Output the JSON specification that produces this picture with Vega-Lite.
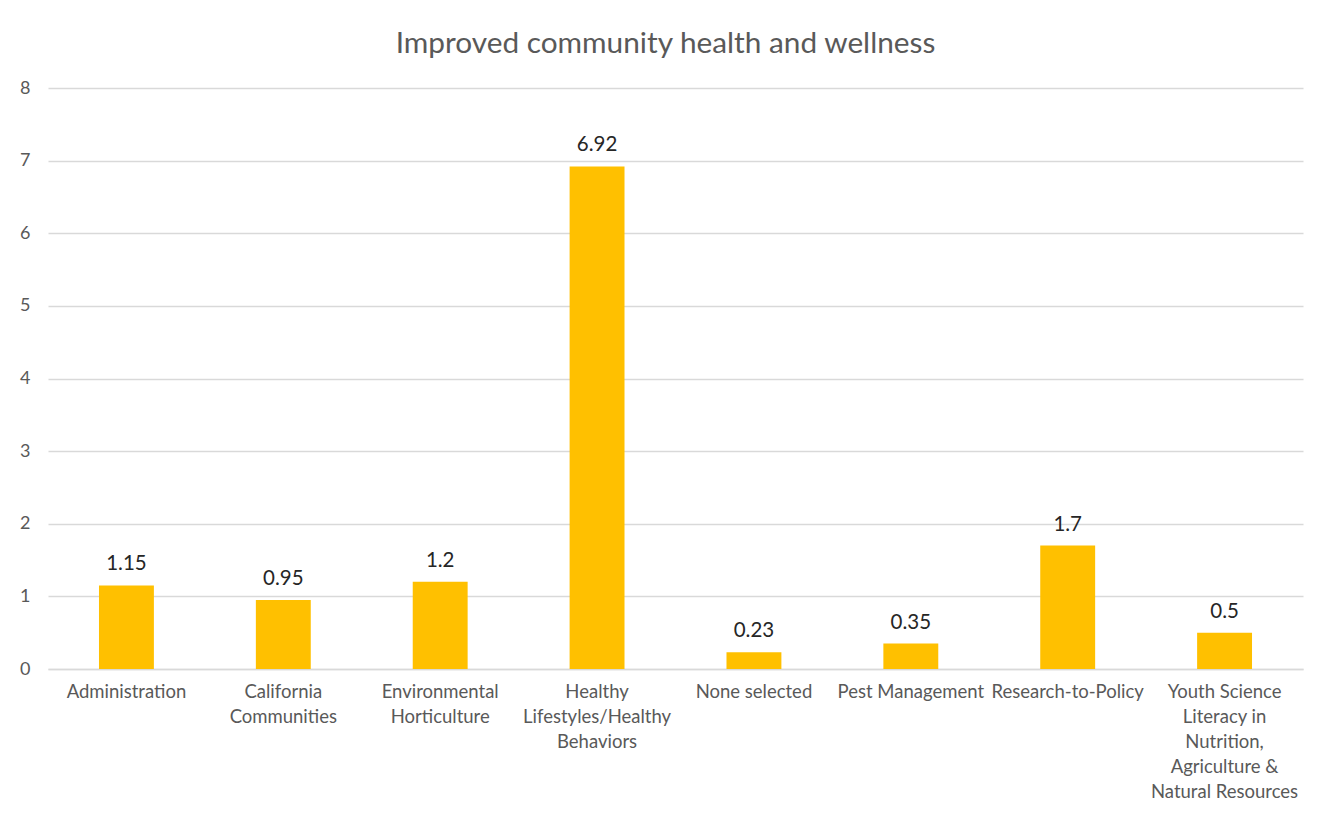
{
  "$schema": "https://vega.github.io/schema/vega-lite/v6.json",
  "width": 1255,
  "height": 581,
  "autosize": {"type": "none"},
  "padding": {"left": 48, "top": 88, "right": 23, "bottom": 147},
  "background": "white",
  "title": {
    "text": "Improved community health and wellness",
    "font": "Lato",
    "fontSize": 29.8,
    "fontWeight": "normal",
    "color": "#595959",
    "anchor": "middle",
    "dx": -10,
    "offset": 20
  },
  "data": {
    "values": [
      {"category": "Administration", "value": 1.15, "label": "1.15"},
      {"category": "California|Communities", "value": 0.95, "label": "0.95"},
      {"category": "Environmental|Horticulture", "value": 1.2, "label": "1.2"},
      {"category": "Healthy|Lifestyles/Healthy|Behaviors", "value": 6.92, "label": "6.92"},
      {"category": "None selected", "value": 0.23, "label": "0.23"},
      {"category": "Pest Management", "value": 0.35, "label": "0.35"},
      {"category": "Research-to-Policy", "value": 1.7, "label": "1.7"},
      {"category": "Youth Science|Literacy in|Nutrition,|Agriculture &|Natural Resources", "value": 0.5, "label": "0.5"}
    ]
  },
  "encoding": {
    "x": {
      "field": "category",
      "type": "nominal",
      "sort": null,
      "scale": {"paddingInner": 0.65, "paddingOuter": 0.325},
      "axis": {
        "title": null,
        "labelExpr": "split(datum.label, '|')",
        "labelAngle": 0,
        "labelFont": "Lato",
        "labelFontSize": 18.5,
        "labelColor": "#595959",
        "labelLineHeight": 25,
        "labelPadding": 13,
        "labelBaseline": "top",
        "labelOverlap": false,
        "ticks": false,
        "domain": true,
        "domainColor": "#d9d9d9",
        "domainWidth": 1.5,
        "grid": false
      }
    },
    "y": {
      "field": "value",
      "type": "quantitative",
      "scale": {"domain": [0, 8], "nice": false},
      "axis": {
        "title": null,
        "values": [0, 1, 2, 3, 4, 5, 6, 7, 8],
        "labelFont": "Lato",
        "labelFontSize": 18,
        "labelColor": "#595959",
        "labelPadding": 18,
        "ticks": false,
        "domain": false,
        "grid": true,
        "gridColor": "#d9d9d9",
        "gridWidth": 1.5
      }
    }
  },
  "layer": [
    {"mark": {"type": "bar", "color": "#FFC000"}},
    {
      "mark": {"type": "text", "baseline": "bottom", "dy": -11, "font": "Lato", "fontSize": 20.5, "color": "#262626"},
      "encoding": {"text": {"field": "label"}}
    }
  ],
  "config": {"view": {"stroke": null}}
}
